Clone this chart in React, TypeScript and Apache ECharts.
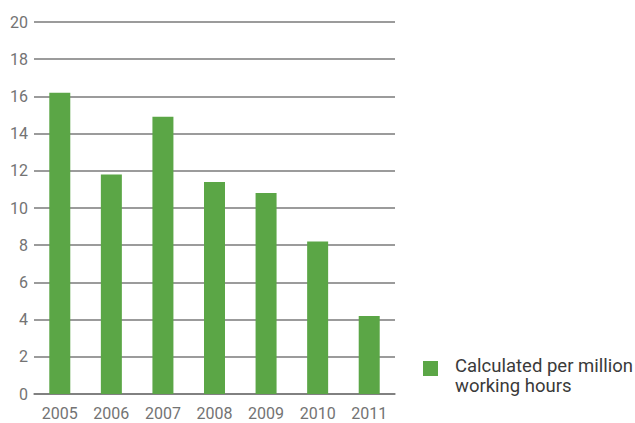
import React, { useEffect, useRef } from "react";
import * as echarts from "echarts";

const years = ["2005", "2006", "2007", "2008", "2009", "2010", "2011"];
const values = [16.2, 11.8, 14.9, 11.4, 10.8, 8.2, 4.2];
const seriesName = "Calculated per million working hours";
const legendLines = ["Calculated per million", "working hours"];

export default function App() {
  const ref = useRef<HTMLDivElement>(null);
  useEffect(() => {
    if (!ref.current) return;
    const chart = echarts.init(ref.current, null, { renderer: "svg" });
    chart.setOption({
      animation: false,
      backgroundColor: "#ffffff",
      textStyle: { fontFamily: "Roboto" },
      grid: {
        left: 34,
        right: 240,
        top: 22,
        bottom: 29,
        containLabel: false,
        outerBoundsMode: "none",
      },
      legend: {
        left: 418,
        top: 336,
        orient: "vertical",
        icon: "rect",
        itemWidth: 15,
        itemHeight: 15,
        itemGap: 10,
        selectedMode: false,
        formatter: () => "{b| }\n" + legendLines.map((l) => "{a|" + l + "}").join("\n"),
        textStyle: {
          fontFamily: "Roboto",
          fontSize: 18.5,
          color: "#3a3a3a",
          padding: [0, 0, 0, 12],
          rich: {
            a: { fontFamily: "Roboto", fontSize: 18.5, color: "#3a3a3a", lineHeight: 20, height: 20 },
            b: { fontSize: 10, lineHeight: 15, height: 15 },
          },
        },
        data: [seriesName],
      },
      xAxis: {
        type: "category",
        data: years,
        axisLine: { show: true, lineStyle: { color: "#7a7a7a", width: 1.5 } },
        axisTick: { show: false },
        axisLabel: { color: "#737373", fontSize: 16, margin: 11, fontFamily: "Roboto" },
      },
      yAxis: {
        type: "value",
        min: 0,
        max: 20,
        interval: 2,
        axisLine: { show: false },
        axisTick: { show: false },
        axisLabel: { color: "#737373", fontSize: 16, margin: 6, fontFamily: "Roboto" },
        splitLine: { show: true, lineStyle: { color: "#7a7a7a", width: 1.5 } },
      },
      series: [
        {
          name: seriesName,
          type: "bar",
          data: values,
          barWidth: 21,
          itemStyle: { color: "#5ba646" },
        },
      ],
    });
    return () => chart.dispose();
  }, []);
  return <div ref={ref} style={{ width: 635, height: 423, position: "absolute", left: 0, top: 0 }} />;
}
